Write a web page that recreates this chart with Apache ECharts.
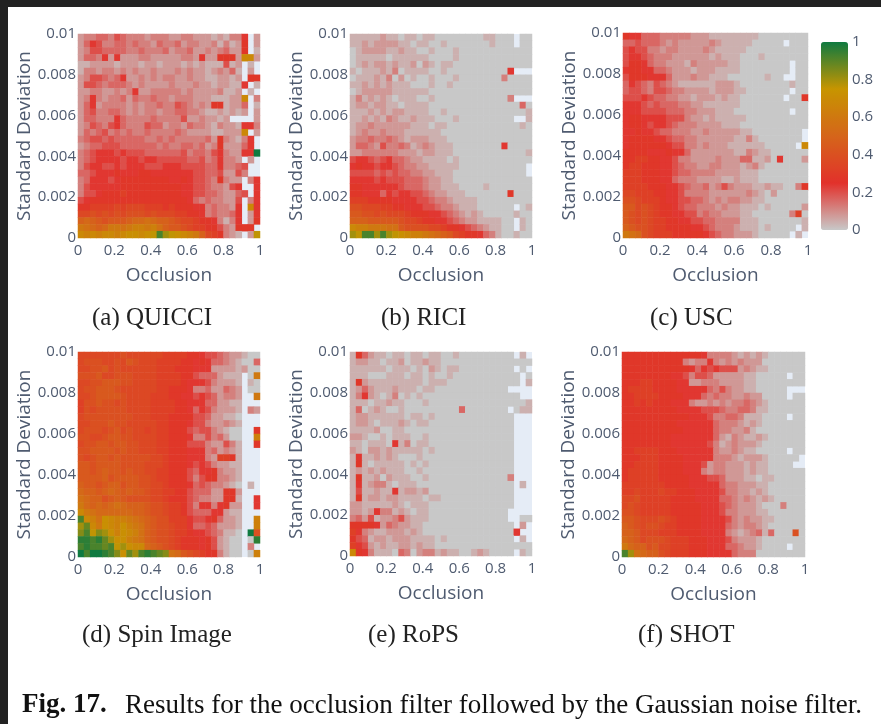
<!DOCTYPE html>
<html>
<head>
<meta charset="utf-8" />
<title>Fig. 17</title>
<style>
  html, body { margin: 0; padding: 0; background: #fff; }
  /* the reference is a soft screenshot */
  #chart { width: 881px; height: 724px; filter: blur(0.6px); }
</style>
</head>
<body>
<div id="chart"></div>
<script src="https://cdn.jsdelivr.net/npm/echarts@6/dist/echarts.min.js"></script>
<script>
// each row is one noise level, top row = 0.01, bottom row = 0
// cell chars: base 26 steps of 0.04 (0 = 0, 6 = 0.24, j = 0.76, p = 1), '.' = no data
var quicci = [
  '23344 35433 32333 22332 22121 336.2',
  '24653 34434 33243 34233 22313 127.2',
  '23554 44433 43334 23342 23234 227.1',
  '24436 26222 33222 22332 62277 72hh2',
  '11222 21222 12212 22121 21115 12.1.',
  '13323 32323 22322 23232 21232 41.2.',
  '23554 34622 32323 32232 21122 12.77',
  '25543 44432 32222 32223 22122 116.1',
  '22332 23236 22333 33232 22231 12.1.',
  '23632 33424 33433 23332 22111 22h.3',
  '24623 33323 23343 35432 32771 224.1',
  '24533 44323 23323 34433 21121 212.2',
  '24433 36433 33433 33522 32212 ....2',
  '23543 56433 35442 33243 32132 21663',
  '24345 34343 34333 34322 22112 22h.2',
  '34554 54444 43343 43333 34273 2136.',
  '23445 55444 44434 33443 42372 2246.',
  '34566 65655 54444 44534 43563 2266p',
  '34566 66566 56655 55544 53463 32.2.',
  '35665 56566 65556 66555 54463 345..',
  '44566 67666 77666 66665 54452 253..',
  '34666 56777 77777 66765 54373 22.36',
  '35666 66777 77777 77665 54332 56..6',
  '35567 77877 77777 77665 54432 245.6',
  '56777 77777 77777 77764 34332 25.36',
  '77888 89899 98887 87776 63433 26.h6',
  '99a9a 9a9aa a9a99 98877 63433 46.26',
  'cdcba bbbcd dedcc ba998 77631 36.27',
  'fedcd ffefg gfgec bba98 87753 2777.',
  'hghgh hghii hijnk jihgf c9873 21.2j'
];

var rici = [
  '11111 21101 10110 00000 00110 00.00',
  '11212 22211 01100 10000 00010 00.00',
  '01222 21121 10010 00100 00000 00000',
  '01111 10111 11100 00100 00000 00000',
  '01212 21211 20210 11000 00000 00000',
  '10111 21301 11100 10000 00000 06...',
  '01112 13020 10010 00100 00000 30000',
  '11212 12111 00010 01000 00000 00000',
  '01222 22111 11100 00000 00000 00000',
  '13121 21011 10010 00000 00000 03...',
  '12212 21101 11100 00000 00000 00040',
  '11121 21221 11100 10000 00000 00001',
  '11212 13211 21110 00100 00000 00..1',
  '12232 22222 11101 10000 00000 00010',
  '12322 32221 11111 00000 00000 00000',
  '23343 34321 22211 10000 00000 00000',
  '24432 53343 12321 11000 00000 60000',
  '22333 33322 21221 11000 00000 00001',
  '56654 56443 22111 10100 00000 00000',
  '67665 66543 32211 11100 00000 0000.',
  '55554 54544 33221 11000 00000 0000.',
  '66665 65554 44322 11000 00000 00000',
  '77666 66654 44322 11100 00100 00000',
  '77666 46566 55432 21110 00000 07000',
  '88877 77666 65543 32111 10000 00000',
  'aa999 88776 66554 33211 10000 00.01',
  'bbaa9 a9998 77766 54321 21000 00100',
  'cccbb bbba9 98776 65432 21111 00.10',
  'hggff feeba aaa99 87765 43211 00.10',
  'kjnnk nkjih ggfed cb987 76431 00100'
];

var usc = [
  '76644 43333 32221 11111 11000 00000',
  '44544 43232 22223 21111 10000 0.000',
  '56553 32332 22232 11111 00000 00000',
  '56654 33322 22221 21110 00100 00000',
  '57764 33222 13222 22110 00000 00.00',
  '67766 44322 21222 11110 00000 00.00',
  '57776 66422 23221 11000 00010 0..00',
  '46543 54321 11111 22210 00000 00100',
  '45543 55433 22221 22211 00000 00.00',
  '55565 44332 21222 12110 00000 0.007',
  '66654 54443 32211 11110 00000 00000',
  '66655 55444 33222 11100 00000 00.00',
  '67766 66555 32212 11111 00000 00000',
  '67765 66543 33222 21110 00000 00000',
  '66766 54433 32232 22221 10000 0000.',
  '67777 66544 33222 22211 31000 0000.',
  '67777 77655 33232 22111 11100 000.h',
  '77776 66766 42222 22211 32110 00000',
  '77887 76653 32222 32224 41120 60002',
  '78877 76654 33223 32221 23100 00000',
  '88877 76654 43333 22221 11000 00000',
  '88877 76643 33222 21121 11000 00000',
  '88887 77665 43342 35322 21121 10037',
  '99888 77665 33332 22222 32102 00000',
  'aa988 87665 54432 32332 21100 00000',
  'bb9a9 87765 44333 23221 11010 00002',
  'ba9a9 87766 55343 32221 10000 00380',
  'ba9a9 88776 65544 33331 11000 00001',
  'cbaa9 88777 76654 33321 11010 000.1',
  'feda9 88877 77765 43322 21000 00.1.'
];

var spin = [
  '99999 99a99 99998 88877 65543 22100',
  '9aaa9 9a9ba 99988 88776 76443 21004',
  '99aab 9a999 99988 87776 66222 21200',
  'aaab9 9aaa9 99988 88775 44421 11.0f',
  '99aab bbaa9 99988 88766 65322 21.10',
  '9aabb ba999 99988 77763 34224 32.00',
  '99abb bba99 99888 77665 65423 32..f',
  '8aaba a9a99 99888 87766 64422 11...',
  '8a9aa aaa99 99888 87764 65322 21.32',
  '9aaaa aaaa9 99888 77775 54221 10...',
  '99aaa baa99 99988 77765 53223 21...',
  '9aaa9 ab9a9 98988 77754 55321 00..7',
  'aa99a bbaa9 99988 77763 35342 00..g',
  '9aabb abbaa 99988 77755 53225 31..7',
  'aabbb babaa 99988 77766 63423 21...',
  'a9abb abaaa aa998 77766 63288 71...',
  'bbabb bbaaa a9998 77765 65322 11...',
  'bbabc bbaba a9988 77754 66732 21...',
  'bbbbc abbbb aa988 77753 57733 21...',
  'cbbab ccabb aa998 77764 54332 10.1.',
  'dccbc dcbcb ba998 87754 44227 72...',
  'edcca bcbaa aa998 77754 33227 71..6',
  'fdcdc dedcc cbaa9 88753 66367 22..6',
  'hfedd ddddc cbaa9 88754 44662 11...',
  'nhgei hggfe dcbaa 88865 56742 21..g',
  'kmhfi hgigf ecbaa 98864 45422 21..g',
  'lnjlk igihg ecbaa 98876 65431 10.pa',
  'oonom kiigf ecbaa 98777 67521 00.0o',
  'nonnm njkih hdcba 98777 67521 00.3.',
  'pnppo nlimk nonml edba9 87731 00.0g'
];

var rops = [
  '17421 10110 11011 00100 00000 00.1.',
  '12211 01120 11211 00000 00000 00000',
  '11111 10111 01021 01100 00000 00.0.',
  '11100 01110 11010 01000 00000 000.0',
  '17211 11111 11011 10000 00000 000.1',
  '12421 11211 10110 00000 00000 0....',
  '13621 01301 01000 00000 00000 000..',
  '11101 12110 00100 00000 00000 00001',
  '14012 10010 00000 00040 00000 0.011',
  '12211 11110 11010 00000 00000 00...',
  '12210 11121 01100 00000 00000 00...',
  '11112 00110 00000 00000 00000 00...',
  '22100 10111 00100 00000 00000 00...',
  '11011 10613 01100 00000 00000 00...',
  '21022 12111 11010 00000 00000 00...',
  '16112 12100 01000 00000 00000 00...',
  '17101 11110 10100 00000 00000 00...',
  '12121 21110 01000 00000 00000 00...',
  '17112 02111 00100 00000 00000 03...',
  '16123 31011 10000 00000 00000 00.1.',
  '15112 11612 21200 00000 00000 00...',
  '17122 12211 11011 00000 00000 00...',
  '22111 11210 11100 00000 00000 00...',
  '22126 33121 01100 00000 00000 0....',
  '34251 22352 11100 00000 00000 0..00',
  '77776 24322 11000 00000 00000 00.2.',
  '86321 12221 21000 00000 00000 006..',
  '75412 21222 11110 10000 00000 00.1.',
  '86521 21122 12110 00000 00000 00000',
  'h7631 11043 02331 21100 12100 00.10'
];

var shot = [
  '77777 77777 77763 33321 21210 00000',
  '77777 77777 32336 32323 22200 00000',
  '77777 77777 76465 65552 32110 00000',
  '77777 77766 53554 22222 11000 00.00',
  '77788 77776 62233 32222 11000 00000',
  '78888 77776 66664 35322 11000 00...',
  '77888 87777 66643 43322 32200 00.00',
  '77878 77766 63223 23233 43210 00000',
  '77777 77776 66655 54334 43110 00000',
  '77777 77777 76665 33443 11100 00.00',
  '77777 77776 66666 43332 12100 00000',
  '77777 77777 66666 43322 31000 00000',
  '77777 77766 66666 42132 11210 00000',
  '77777 77766 66665 31232 22100 00000',
  '77888 87776 66666 32232 11000 00.00',
  '77788 87777 66666 33321 22210 0000.',
  '77888 87777 66652 33222 12110 000..',
  '78888 87777 66632 33222 12110 00000',
  '78888 87777 76665 54222 11011 00000',
  '88888 88777 76666 64332 22110 00000',
  '88988 89887 77666 65332 21210 00000',
  '99a88 88877 77666 64432 32121 00000',
  '9a988 88877 77766 65432 22100 03000',
  'aa988 88877 77766 65332 22110 00000',
  'bba99 9a987 77766 66532 32211 00000',
  'cba9a a9887 77766 66432 33210 00000',
  'ccb99 98887 77766 66321 23414 000a0',
  'dcb9a aa988 87776 66532 22100 00000',
  'fdcca b9988 87776 66443 22100 00.00',
  'nkedc ca988 87776 66643 33000 00000'
];

var panels = [quicci, rici, usc, spin, rops, shot];
var panelCaptions = ['(a) QUICCI', '(b) RICI', '(c) USC', '(d) Spin Image', '(e) RoPS', '(f) SHOT'];
var xTitle = 'Occlusion';
var yTitle = 'Standard Deviation';
var xMax = 1, xStep = 0.2;
var yMax = 0.01, yStep = 0.002;
var barTicks = [0, 1, 0.2];
var figLabel = 'Fig. 17.';
var figText = 'Results for the occlusion filter followed by the Gaussian noise filter.';

// plot boxes
var boxes = [
  { left: 78, top: 34, w: 182, h: 204 },
  { left: 350, top: 34, w: 182, h: 204 },
  { left: 623, top: 33, w: 185, h: 205 },
  { left: 78, top: 352, w: 182, h: 205 },
  { left: 350, top: 352, w: 182, h: 204 },
  { left: 622, top: 352, w: 183, h: 205 }
];
var captionPos = [[92, 306], [381, 306], [650, 306], [82, 623], [368, 623], [638, 623]];

var axisColor = '#4f5b70';
var font = '"Open Sans"';

function decode(rows) {
  var out = [];
  rows.forEach(function (row, r) {
    var s = row.replace(/ /g, '');
    for (var c = 0; c < s.length; c++) {
      if (s[c] === '.') continue;
      out.push([c, rows.length - 1 - r, parseInt(s[c], 26) * 0.04]);
    }
  });
  return out;
}

function cats(n) {
  var a = [];
  for (var i = 0; i < n; i++) a.push(i);
  return a;
}

var grids = [], xAxes = [], yAxes = [], series = [], graphics = [];

panels.forEach(function (rows, i) {
  var b = boxes[i];
  grids.push({
    left: b.left, top: b.top, width: b.w, height: b.h,
    show: true, backgroundColor: '#e5ecf6', borderWidth: 0
  });
  // category axes carry the cells, value axes carry the labels
  xAxes.push({ type: 'category', gridIndex: i, position: 'bottom', show: false, data: cats(30) });
  yAxes.push({ type: 'category', gridIndex: i, position: 'left', show: false, data: cats(30) });
  xAxes.push({
    type: 'value', gridIndex: i, position: 'bottom', min: 0, max: xMax, interval: xStep,
    name: xTitle, nameLocation: 'middle', nameGap: 28,
    nameTextStyle: { color: axisColor, fontSize: 19, fontFamily: font },
    axisLine: { show: false }, axisTick: { show: false }, splitLine: { show: false },
    axisLabel: { color: axisColor, fontSize: 15, fontFamily: font, margin: 5, showMinLabel: true, showMaxLabel: true }
  });
  yAxes.push({
    type: 'value', gridIndex: i, position: 'left', min: 0, max: yMax, interval: yStep,
    name: yTitle, nameLocation: 'middle', nameGap: 43,
    nameTextStyle: { color: axisColor, fontSize: 19, fontFamily: font },
    axisLine: { show: false }, axisTick: { show: false }, splitLine: { show: false },
    axisLabel: { color: axisColor, fontSize: 15, fontFamily: font, margin: 2, showMinLabel: true, showMaxLabel: true }
  });
  series.push({
    type: 'heatmap',
    xAxisIndex: i * 2,
    yAxisIndex: i * 2,
    data: decode(rows),
    progressive: 0,
    animation: false
  });
  graphics.push({
    type: 'text', left: captionPos[i][0], top: captionPos[i][1],
    style: { text: panelCaptions[i], fill: '#222', font: '25px "Liberation Serif"' }
  });
});

// axes only, to label the colour bar
grids.push({ left: 821, top: 42, width: 27, height: 188, show: false });
xAxes.push({ type: 'value', gridIndex: 6, show: false, min: 0, max: 1 });
yAxes.push({
  type: 'value', gridIndex: 6, position: 'right', min: barTicks[0], max: barTicks[1], interval: barTicks[2],
  axisLine: { show: false }, axisTick: { show: false }, splitLine: { show: false },
  axisLabel: { color: axisColor, fontSize: 15, fontFamily: font, margin: 4, showMinLabel: true, showMaxLabel: true }
});

// dark edge of the screenshot
graphics.push({ type: 'rect', shape: { x: 0, y: 0, width: 881, height: 7 }, style: { fill: '#222' } });
graphics.push({ type: 'rect', shape: { x: 0, y: 0, width: 8, height: 724 }, style: { fill: '#222' } });
graphics.push({
  type: 'text', left: 22, top: 692,
  style: { text: figLabel, fill: '#111', font: 'bold 27px "Liberation Serif"' }
});
graphics.push({
  type: 'text', left: 125, top: 692,
  style: { text: figText, fill: '#111', font: '27px "Liberation Serif"' }
});

var chart = echarts.init(document.getElementById('chart'), null, { renderer: 'canvas' });
chart.setOption({
  animation: false,
  backgroundColor: '#fff',
  grid: grids,
  xAxis: xAxes,
  yAxis: yAxes,
  visualMap: {
    type: 'continuous',
    min: 0, max: 1,
    dimension: 2,
    seriesIndex: [0, 1, 2, 3, 4, 5],
    calculable: false,
    orient: 'vertical',
    left: 821, top: 42,
    padding: 0,
    itemWidth: 27, itemHeight: 188,
    text: null,
    showLabel: false,
    inRange: { color: ['#c8c8c8', '#e2312b', '#d5651a', '#c79500', '#0f7a40'] }
  },
  series: series,
  graphic: graphics
});
</script>
</body>
</html>
